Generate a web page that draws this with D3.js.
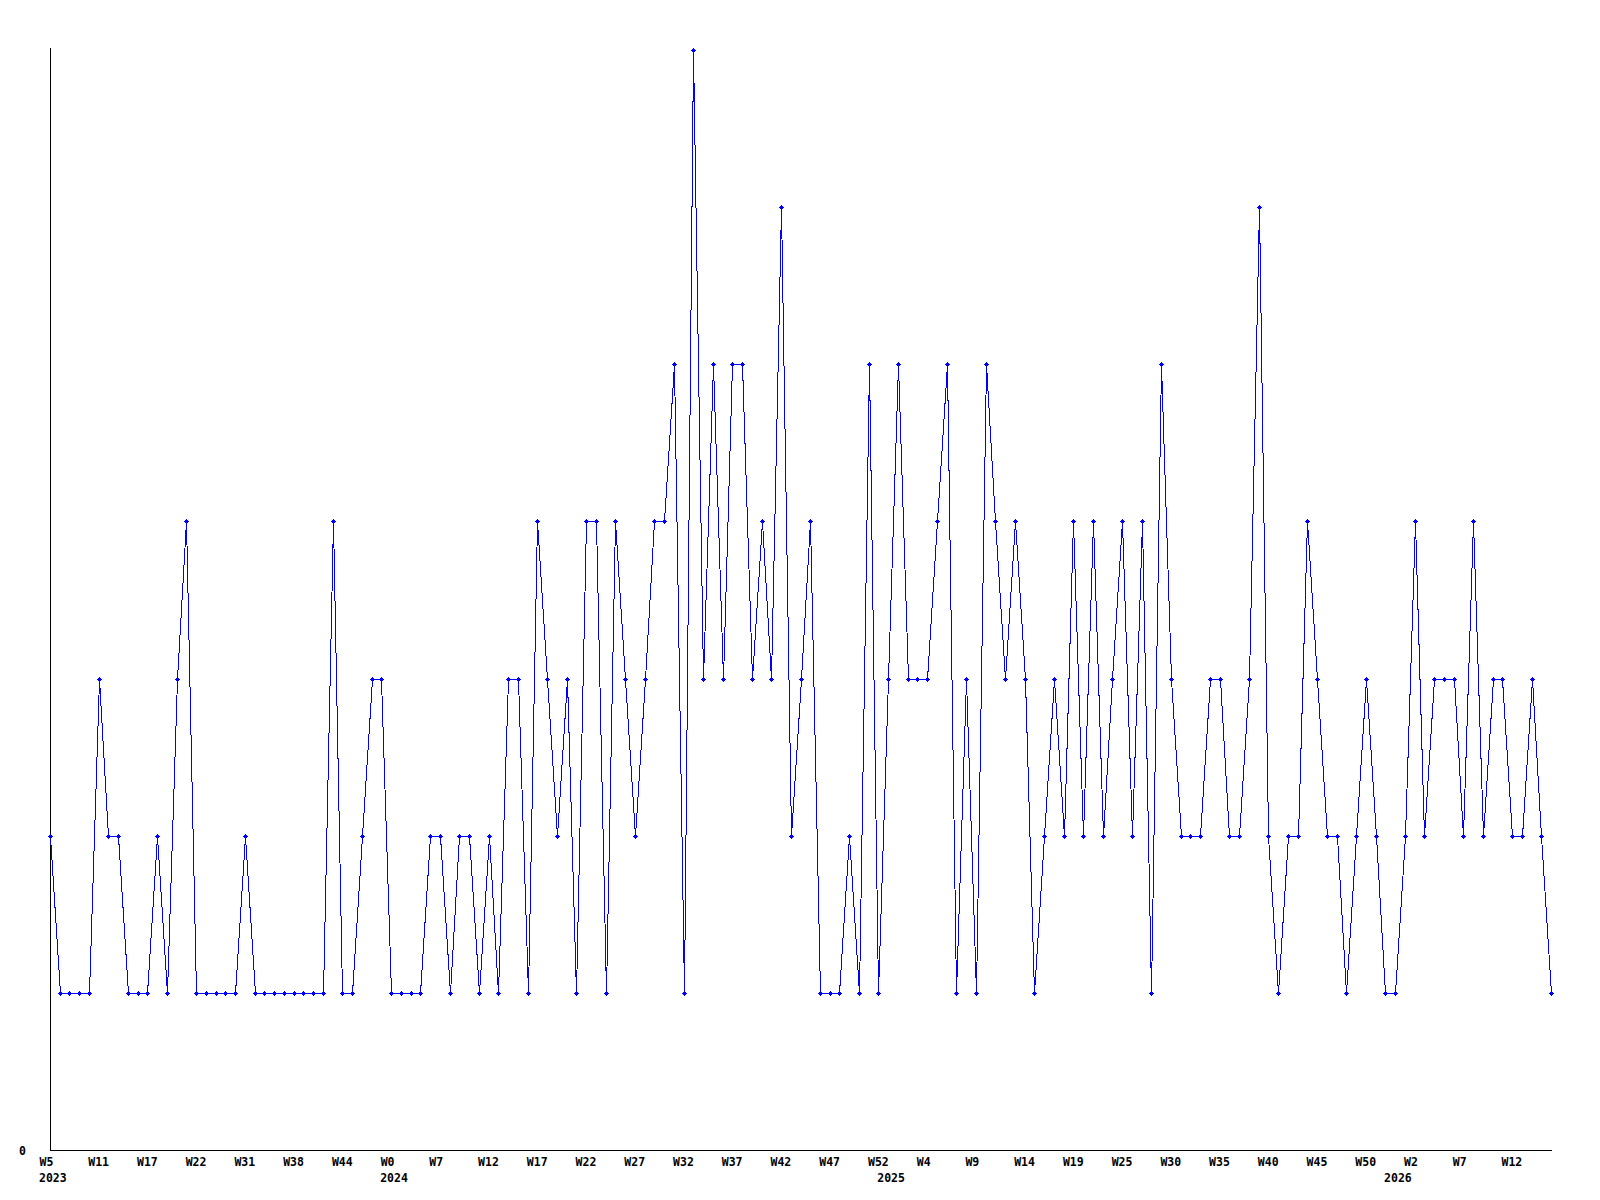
<!DOCTYPE html>
<html>
<head>
<meta charset="utf-8">
<script src="https://cdn.jsdelivr.net/npm/d3@7"></script>
<style>
  body { margin: 0; background: #fff; }
  svg text { font-family: "DejaVu Sans Mono", monospace; font-weight: bold; font-size: 11px; fill: #000; }
</style>
</head>
<body>
<script>
// weekly counts, one per data point (155 points)
var values = [
  2,1,1,1,1,3,2,2,1,1,
  1,2,1,3,4,1,1,1,1,1,
  2,1,1,1,1,1,1,1,1,4,
  1,1,2,3,3,1,1,1,1,2,
  2,1,2,2,1,2,1,3,3,1,
  4,3,2,3,1,4,4,1,4,3,
  2,3,4,4,5,1,7,3,5,3,
  5,5,3,4,3,6,2,3,4,1,
  1,1,2,1,5,1,3,5,3,3,
  3,4,5,1,3,1,5,4,3,4,
  3,1,2,3,2,4,2,4,2,3,
  4,2,4,1,5,3,2,2,2,3,
  3,2,2,3,6,2,1,2,2,4,
  3,2,2,1,2,3,2,1,1,2,
  4,2,3,3,3,2,4,2,3,3,
  2,2,3,2,1
];

// week labels, shown on every 5th point
var weekLabels = ["W5","W11","W17","W22","W31","W38","W44","W0","W7","W12","W17","W22",
  "W27","W32","W37","W42","W47","W52","W4","W9","W14","W19","W25","W30","W35","W40",
  "W45","W50","W2","W7","W12"];

// year labels and the point where each year starts
var years = ["2023","2024","2025","2026"];
var yearIndex = [0, 35, 86, 138];

var width = 1600, height = 1200;
var plotLeft = 50, plotRight = 1551, plotTop = 50, plotBottom = 1150;

var svg = d3.select("body").append("svg")
    .attr("width", width)
    .attr("height", height);

var x = d3.scaleLinear().domain([0, values.length - 1]).range([plotLeft, plotRight]);
var y = d3.scaleLinear().domain([0, 7]).range([plotBottom, plotTop]);

var tickIdx = d3.range(0, values.length, 5);

// axes lines
svg.append("line")
    .attr("x1", plotLeft + 0.5).attr("x2", plotLeft + 0.5)
    .attr("y1", plotTop - 2).attr("y2", plotBottom + 1)
    .attr("stroke", "#000").attr("shape-rendering", "crispEdges");
svg.append("line")
    .attr("x1", plotLeft).attr("x2", plotRight + 1)
    .attr("y1", plotBottom + 0.5).attr("y2", plotBottom + 0.5)
    .attr("stroke", "#000").attr("shape-rendering", "crispEdges");

// x axis labels
var xAxis = d3.axisBottom(x)
    .tickValues(tickIdx)
    .tickFormat(function (d, i) { return weekLabels[i]; })
    .tickSize(0);

var gx = svg.append("g")
    .attr("transform", "translate(0," + plotBottom + ")")
    .call(xAxis);
gx.select(".domain").remove();
gx.selectAll("text")
    .attr("text-anchor", "start")
    .attr("x", -11)
    .attr("y", 16)
    .attr("dy", null)
    .attr("fill", "#000")
    .style("font-family", "DejaVu Sans Mono")
    .style("font-size", "11.5px")
    .style("font-weight", "bold");

// year labels
svg.selectAll(".year")
    .data(years)
    .enter().append("text")
    .attr("class", "year")
    .attr("x", function (d, i) { return x(yearIndex[i]) - 11; })
    .attr("y", plotBottom + 32)
    .style("font-size", "11.5px")
    .text(function (d) { return d; });

// y axis: only the zero label
svg.append("text")
    .attr("x", 26)
    .attr("y", y(0) + 5)
    .attr("text-anchor", "end")
    .style("font-size", "11.5px")
    .text("0");

// line
var line = d3.line()
    .x(function (d, i) { return Math.round(x(i)) + 0.5; })
    .y(function (d) { return Math.round(y(d)) + 0.5; });

svg.append("path")
    .datum(values)
    .attr("d", line)
    .attr("fill", "none")
    .attr("stroke", "#0000ff")
    .attr("stroke-width", 1)
    .attr("shape-rendering", "crispEdges");

// point markers (small plus)
var marker = "M-2,0H3V1H-2Z M0,-2H1V3H0Z M-1,-1H2V2H-1Z";
svg.selectAll(".pt")
    .data(values)
    .enter().append("path")
    .attr("class", "pt")
    .attr("d", marker)
    .attr("transform", function (d, i) {
        return "translate(" + Math.round(x(i)) + "," + Math.round(y(d)) + ")";
    })
    .attr("fill", "#0000ff")
    .attr("shape-rendering", "crispEdges");
</script>
</body>
</html>
